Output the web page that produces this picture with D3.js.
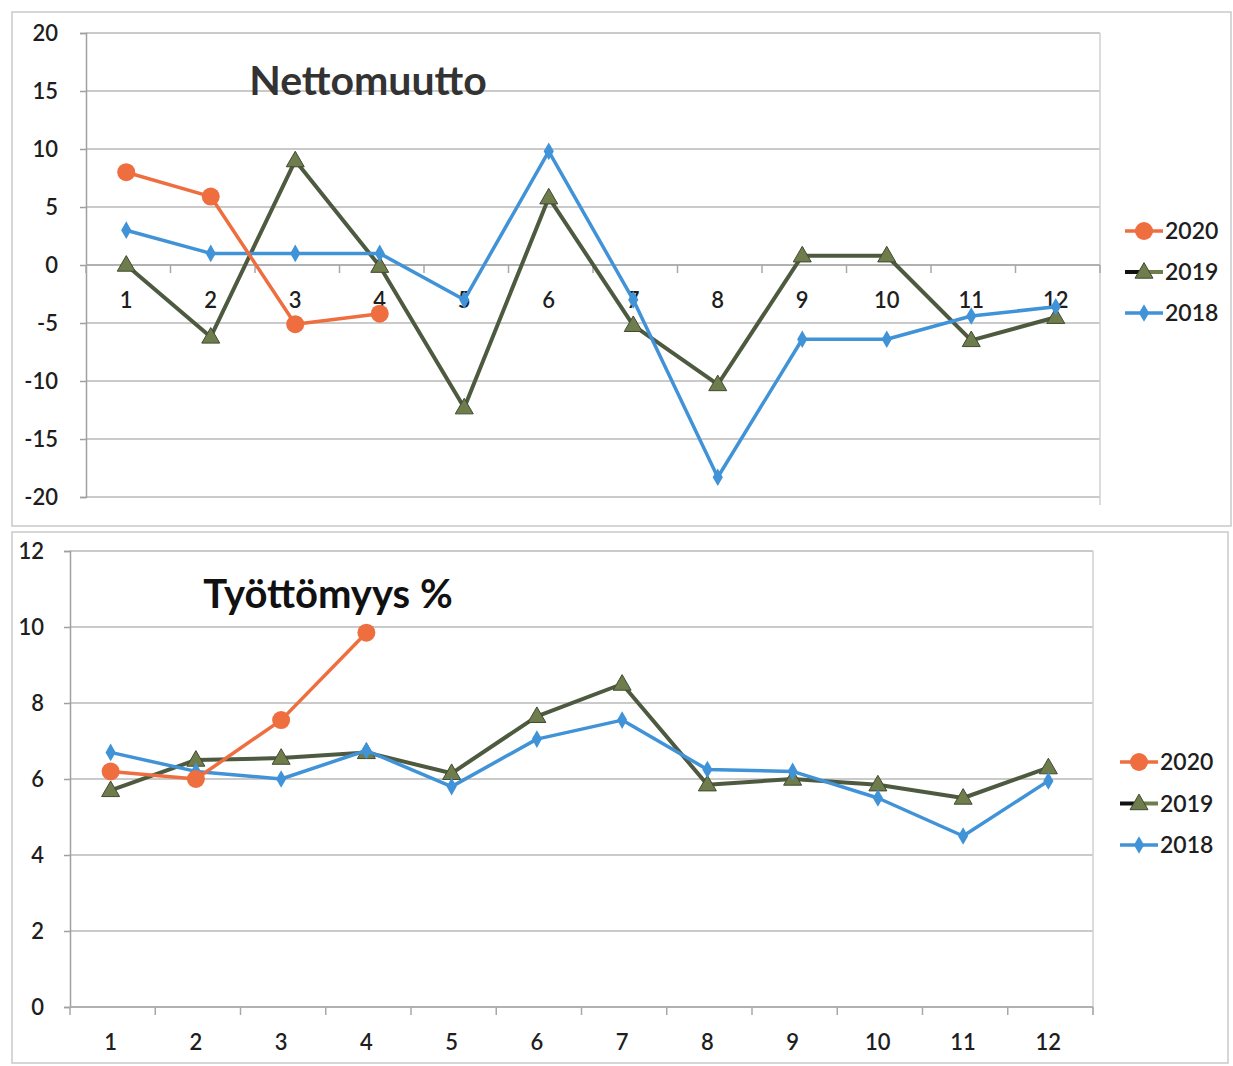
<!DOCTYPE html>
<html>
<head>
<meta charset="utf-8">
<script src="https://cdn.jsdelivr.net/npm/d3@7"></script>
<style>
  body { margin: 0; background: #fff; }
  text { font-family: Lato, "Open Sans", sans-serif; }
</style>
</head>
<body>
<script>
let width = 1233;
let height = 1066;

// categories (months)
let months = [1, 2, 3, 4, 5, 6, 7, 8, 9, 10, 11, 12];
let years = ["2020", "2019", "2018"];

// Nettomuutto
let net2020 = [8, 5.9, -5.1, -4.2];
let net2019 = [0, -6.2, 9, -0.1, -12.3, 5.8, -5.2, -10.3, 0.8, 0.8, -6.5, -4.5];
let net2018 = [3, 1, 1, 1, -3, 9.8, -3, -18.3, -6.4, -6.4, -4.4, -3.6];
let netTicks = [-20, -15, -10, -5, 0, 5, 10, 15, 20];

// Työttömyys %
let tyo2020 = [6.2, 6.0, 7.55, 9.85];
let tyo2019 = [5.7, 6.5, 6.55, 6.7, 6.15, 7.65, 8.5, 5.85, 6.0, 5.85, 5.5, 6.3];
let tyo2018 = [6.7, 6.2, 6.0, 6.75, 5.8, 7.05, 7.55, 6.25, 6.2, 5.5, 4.5, 5.95];
let tyoTicks = [0, 2, 4, 6, 8, 10, 12];

let colors = { "2020": "#ee6e3f", "2019": "#4e5a40", "2018": "#4193d8" };
let markerFill = { "2020": "#ee6e3f", "2019": "#6f7d4c", "2018": "#4193d8" };

let svg = d3.select("body").append("svg")
            .attr("width", width)
            .attr("height", height);

// chart frames
svg.append("rect").attr("x", 12).attr("y", 12)
   .attr("width", 1219).attr("height", 514)
   .attr("fill", "none").attr("stroke", "#c9c9c9").attr("stroke-width", 1.5);
svg.append("rect").attr("x", 12).attr("y", 532)
   .attr("width", 1216).attr("height", 531)
   .attr("fill", "none").attr("stroke", "#c9c9c9").attr("stroke-width", 1.5);

function marker(g, year, cx, cy) {
  if (year === "2020") {
    g.append("circle").attr("cx", cx).attr("cy", cy).attr("r", 9)
     .attr("fill", markerFill[year]);
  } else if (year === "2019") {
    g.append("path")
     .attr("d", d3.symbol().type(d3.symbolTriangle).size(140))
     .attr("transform", "translate(" + cx + "," + (cy + 1) + ")")
     .attr("fill", markerFill[year])
     .attr("stroke", "#3f4a33").attr("stroke-width", 1);
  } else {
    g.append("path")
     .attr("d", d3.symbol().type(d3.symbolDiamond).size(90))
     .attr("transform", "translate(" + cx + "," + cy + ")")
     .attr("fill", markerFill[year]);
  }
}

function drawChart(opt) {
  let g = svg.append("g");
  let x = d3.scaleBand().domain(months).range([opt.left, opt.right]);
  let y = d3.scaleLinear().domain(d3.extent(opt.ticks)).range([opt.bottom, opt.top]);

  // gridlines
  g.selectAll(".grid").data(opt.ticks).enter().append("line")
   .attr("x1", opt.left).attr("x2", opt.right)
   .attr("y1", d => y(d)).attr("y2", d => y(d))
   .attr("stroke", "#b9b9b9").attr("stroke-width", 1.5);

  // plot area right border
  g.append("line").attr("x1", opt.right).attr("x2", opt.right)
   .attr("y1", opt.top).attr("y2", opt.bottom + 8)
   .attr("stroke", "#d0d0d0").attr("stroke-width", 1.5);

  // y axis
  let yAxis = g.append("g")
   .attr("transform", "translate(" + opt.left + ",0)")
   .call(d3.axisLeft(y).tickValues(opt.ticks).tickSize(6).tickPadding(opt.yPad)
           .tickFormat(d => String(d)));
  yAxis.select(".domain").attr("stroke", "#a0a0a0").attr("stroke-width", 1.5);
  yAxis.selectAll(".tick line").attr("stroke", "#a0a0a0").attr("stroke-width", 1.5);
  yAxis.selectAll("text").attr("font-size", 22).attr("fill", "#1e1e1e")
       .attr("font-weight", 600)
       .attr("font-family", "Lato, sans-serif");

  // x axis line at the crossing value with ticks at category boundaries
  let ax = y(opt.cross);
  g.append("line").attr("x1", opt.left).attr("x2", opt.right)
   .attr("y1", ax).attr("y2", ax)
   .attr("stroke", "#a8a8a8").attr("stroke-width", 1.5);
  let bounds = months.map(m => x(m)).concat([opt.right]);
  g.selectAll(".xt").data(bounds).enter().append("line")
   .attr("x1", d => d).attr("x2", d => d)
   .attr("y1", ax).attr("y2", ax + 8)
   .attr("stroke", "#a8a8a8").attr("stroke-width", 1.5);
  g.selectAll(".xl").data(months).enter().append("text")
   .attr("x", d => x(d) + x.bandwidth() / 2 - 2)
   .attr("y", ax + opt.xLabelOffset)
   .attr("text-anchor", "middle")
   .attr("font-size", 22).attr("font-weight", 600).attr("fill", "#1e1e1e")
   .text(d => d);

  // series
  let line = d3.line()
    .x((d, i) => x(months[i]) + x.bandwidth() / 2 - 2)
    .y(d => y(d));
  let order = ["2019", "2018", "2020"];
  order.forEach(yr => {
    let vals = opt.series[yr];
    g.append("path").datum(vals)
     .attr("d", line)
     .attr("fill", "none")
     .attr("stroke", colors[yr])
     .attr("stroke-width", yr === "2019" ? 4 : 3.5)
     .attr("stroke-linejoin", "round");
    vals.forEach((v, i) => marker(g, yr, x(months[i]) + x.bandwidth() / 2 - 2, y(v)));
  });

  // title
  g.append("text")
   .attr("x", opt.titleX).attr("y", opt.titleY)
   .attr("text-anchor", "middle")
   .attr("font-size", opt.titleSize).attr("font-weight", "bold")
   .attr("fill", opt.titleColor)
   .text(opt.title);

  // legend
  years.forEach((yr, i) => {
    let ly = opt.legendY + i * opt.legendStep;
    let lx = opt.legendX;
    if (yr === "2019") {
      g.append("line").attr("x1", lx).attr("x2", lx + 14).attr("y1", ly).attr("y2", ly)
       .attr("stroke", "#111").attr("stroke-width", 4);
      g.append("line").attr("x1", lx + 14).attr("x2", lx + 38).attr("y1", ly).attr("y2", ly)
       .attr("stroke", "#6f7d4c").attr("stroke-width", 4);
    } else {
      g.append("line").attr("x1", lx).attr("x2", lx + 38).attr("y1", ly).attr("y2", ly)
       .attr("stroke", colors[yr]).attr("stroke-width", 3.5);
    }
    marker(g, yr, lx + 19, ly);
    g.append("text").attr("x", lx + 40).attr("y", ly + 8)
     .attr("font-size", 23).attr("font-weight", 600).attr("fill", "#1e1e1e")
     .text(yr);
  });
}

drawChart({
  left: 86, right: 1100, top: 33, bottom: 497,
  ticks: netTicks, cross: 0, xLabelOffset: 43, yPad: 22,
  series: { "2020": net2020, "2019": net2019, "2018": net2018 },
  title: "Nettomuutto", titleX: 368, titleY: 95, titleSize: 41, titleColor: "#333",
  legendX: 1125, legendY: 231, legendStep: 41
});

drawChart({
  left: 70, right: 1093, top: 551, bottom: 1007,
  ticks: tyoTicks, cross: 0, xLabelOffset: 43, yPad: 20,
  series: { "2020": tyo2020, "2019": tyo2019, "2018": tyo2018 },
  title: "Työttömyys %", titleX: 328, titleY: 608, titleSize: 40, titleColor: "#111",
  legendX: 1120, legendY: 762, legendStep: 41.5
});
</script>
</body>
</html>
